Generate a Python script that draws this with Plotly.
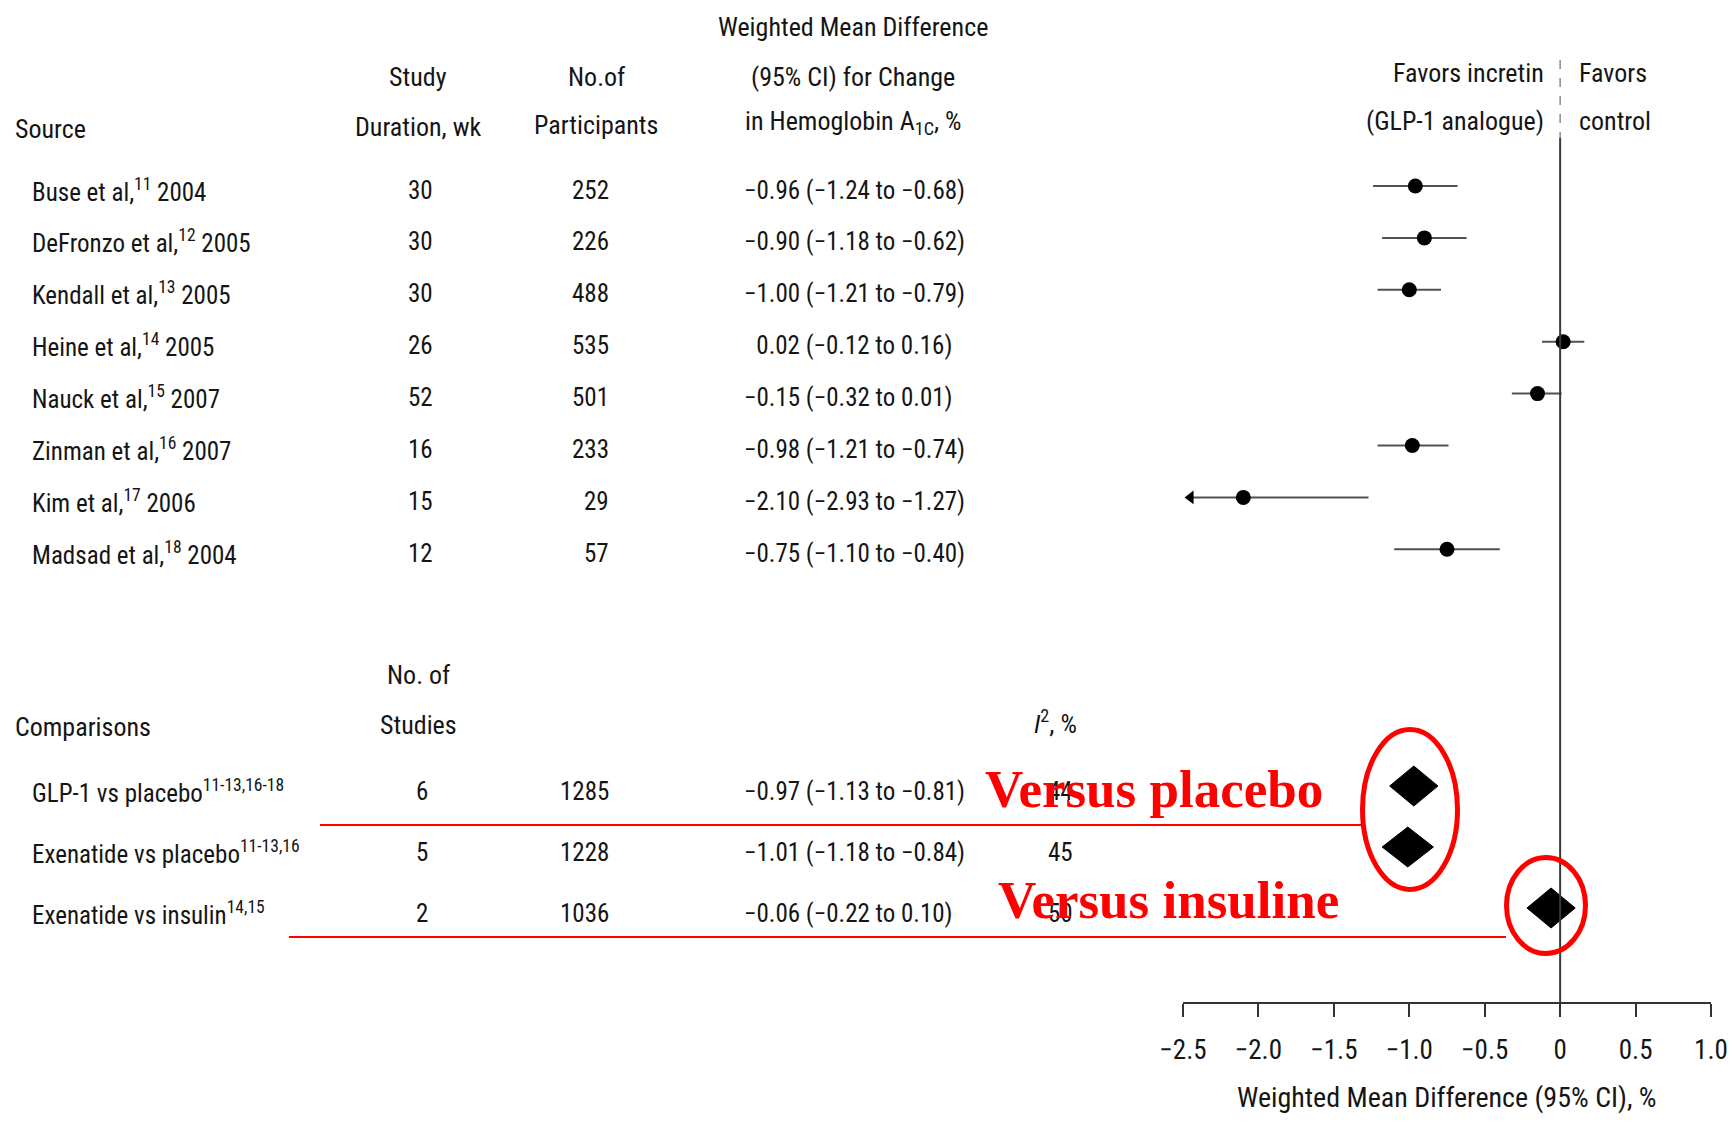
import plotly.graph_objects as go

W, H = 1732, 1123

# ---- individual trials ----
studies = [
    "Buse et al,<sup>11</sup> 2004",
    "DeFronzo et al,<sup>12</sup> 2005",
    "Kendall et al,<sup>13</sup> 2005",
    "Heine et al,<sup>14</sup> 2005",
    "Nauck et al,<sup>15</sup> 2007",
    "Zinman et al,<sup>16</sup> 2007",
    "Kim et al,<sup>17</sup> 2006",
    "Madsad et al,<sup>18</sup> 2004",
]
duration_wk = [30, 30, 30, 26, 52, 16, 15, 12]
participants = [252, 226, 488, 535, 501, 233, 29, 57]
wmd = [-0.96, -0.90, -1.00, 0.02, -0.15, -0.98, -2.10, -0.75]
ci_low = [-1.24, -1.18, -1.21, -0.12, -0.32, -1.21, -2.93, -1.10]
ci_high = [-0.68, -0.62, -0.79, 0.16, 0.01, -0.74, -1.27, -0.40]

# ---- pooled comparisons ----
comparisons = [
    "GLP-1 vs placebo<sup>11-13,16-18</sup>",
    "Exenatide vs placebo<sup>11-13,16</sup>",
    "Exenatide vs insulin<sup>14,15</sup>",
]
n_studies = [6, 5, 2]
comp_participants = [1285, 1228, 1036]
comp_wmd = [-0.97, -1.01, -0.06]
comp_low = [-1.13, -1.18, -0.22]
comp_high = [-0.81, -0.84, 0.10]
i_squared = [44, 45, 50]

# ---- axis ----
x_range = [-2.5, 1.0]
x_ticks = [-2.5, -2.0, -1.5, -1.0, -0.5, 0, 0.5, 1.0]
x_ticklabels = ["\u22122.5", "\u22122.0", "\u22121.5", "\u22121.0", "\u22120.5", "0", "0.5", "1.0"]

# ---- layout geometry (pixels from the top-left of the page) ----
AXIS_Y = 1002
PLOT_L, PLOT_R = 1183, 1711
ROW_Y0, ROW_STEP = 190, 51.9
COMP_Y0, COMP_STEP = 791, 61
MARK_SHIFT = -4
DIAMOND_HALF = 20

FONT = "Liberation Sans Narrow, Arial Narrow, Roboto Condensed, DejaVu Sans Condensed, Liberation Sans, Arial, sans-serif"
SERIF = "Liberation Serif, Times New Roman, serif"
INK = "#151515"
RED = "#ff0000"
ROW_SIZE = 25
HEAD_SIZE = 26


def px(x):
    return x / W


def py(y):
    return 1 - y / H


def signed(v):
    return f"{v:.2f}".replace("-", "\u2212")


def ci_text(est, lo, hi):
    lead = "" if est < 0 else "\u2007"
    return f"{lead}{signed(est)} ({signed(lo)} to {signed(hi)})"


annotations = []


def label(text, x, y, anchor="left", size=ROW_SIZE, font=FONT, color=INK, bold=False):
    annotations.append(dict(
        text=f"<b>{text}</b>" if bold else text,
        x=px(x), y=py(y), xref="paper", yref="paper",
        xanchor=anchor, yanchor="middle", showarrow=False,
        font=dict(family=font, size=size, color=color),
    ))


# column headers
label("Source", 13, 129, size=HEAD_SIZE)
label("Study", 418, 77, "center", HEAD_SIZE)
label("Duration, wk", 418, 127, "center", HEAD_SIZE)
label("No.of", 596, 77, "center", HEAD_SIZE)
label("Participants", 596, 125, "center", HEAD_SIZE)
label("Weighted Mean Difference", 853, 27, "center", HEAD_SIZE)
label("(95% CI) for Change", 853, 77, "center", HEAD_SIZE)
label("in Hemoglobin A<sub>1C</sub>, %", 853, 123, "center", HEAD_SIZE)
label("Favors incretin", 1546, 73, "right", HEAD_SIZE)
label("(GLP-1 analogue)", 1546, 121, "right", HEAD_SIZE)
label("Favors", 1577, 73, "left", HEAD_SIZE)
label("control", 1577, 121, "left", HEAD_SIZE)

# study rows
row_y = [ROW_Y0 + i * ROW_STEP for i in range(len(studies))]
for i, name in enumerate(studies):
    y = row_y[i]
    label(name, 30, y)
    label(str(duration_wk[i]), 420, y, "center")
    label(str(participants[i]), 611, y, "right")
    label(ci_text(wmd[i], ci_low[i], ci_high[i]), 742, y)

# comparison headers
label("No. of", 418, 675, "center", HEAD_SIZE)
label("Studies", 418, 725, "center", HEAD_SIZE)
label("Comparisons", 13, 727, size=HEAD_SIZE)
label("<i>I</i><sup>2</sup>, %", 1055, 722, "center", HEAD_SIZE)

comp_y = [COMP_Y0 + i * COMP_STEP for i in range(len(comparisons))]
for i, name in enumerate(comparisons):
    y = comp_y[i]
    label(name, 30, y)
    label(str(n_studies[i]), 422, y, "center")
    label(str(comp_participants[i]), 611, y, "right")
    label(ci_text(comp_wmd[i], comp_low[i], comp_high[i]), 742, y)
    label(str(i_squared[i]), 1060, y, "center")

# axis title
label("Weighted Mean Difference (95% CI), %", (PLOT_L + PLOT_R) / 2, 1097, "center", 28)

fig = go.Figure()

# confidence intervals of the individual trials (clipped at the axis edge)
arrow_x = x_range[0] + 0.05
ci_x, ci_y = [], []
arrows_x, arrows_y = [], []
for i in range(len(studies)):
    y = row_y[i] + MARK_SHIFT
    lo = ci_low[i]
    if lo < x_range[0]:
        lo = arrow_x
        arrows_x.append(arrow_x)
        arrows_y.append(y)
    ci_x += [lo, ci_high[i], None]
    ci_y += [y, y, None]

fig.add_trace(go.Scatter(
    x=ci_x, y=ci_y, mode="lines",
    line=dict(color="#505050", width=2), hoverinfo="skip", showlegend=False,
))
fig.add_trace(go.Scatter(
    x=wmd, y=[y + MARK_SHIFT for y in row_y], mode="markers",
    marker=dict(symbol="circle", size=15, color="#000000"),
    showlegend=False,
))
fig.add_trace(go.Scatter(
    x=arrows_x, y=arrows_y, mode="markers",
    marker=dict(symbol="triangle-left", size=12, color="#000000"),
    showlegend=False,
))

# pooled estimates as diamonds spanning the confidence interval
for i in range(len(comparisons)):
    yc = comp_y[i] - 5
    fig.add_trace(go.Scatter(
        x=[comp_low[i], comp_wmd[i], comp_high[i], comp_wmd[i], comp_low[i]],
        y=[yc, yc - DIAMOND_HALF, yc, yc + DIAMOND_HALF, yc],
        mode="lines", fill="toself", fillcolor="#000000",
        line=dict(color="#000000", width=1), showlegend=False,
    ))

shapes = [
    # line of no effect
    dict(type="line", xref="x", yref="y", x0=0, x1=0, y0=138, y1=AXIS_Y,
         line=dict(color="#3a3a3a", width=2)),
    dict(type="line", xref="x", yref="y", x0=0, x1=0, y0=60, y1=138,
         line=dict(color="#8a8a8a", width=1.5, dash="dash")),
    # red highlights
    dict(type="line", xref="paper", yref="paper", x0=px(320), x1=px(1362), y0=py(825), y1=py(825),
         line=dict(color=RED, width=2)),
    dict(type="line", xref="paper", yref="paper", x0=px(289), x1=px(1506), y0=py(937), y1=py(937),
         line=dict(color=RED, width=2)),
    dict(type="circle", xref="paper", yref="paper", x0=px(1362.5), x1=px(1457.5), y0=py(729.5), y1=py(889.5),
         line=dict(color=RED, width=5)),
    dict(type="circle", xref="paper", yref="paper", x0=px(1506.5), x1=px(1585.5), y0=py(857.5), y1=py(953.5),
         line=dict(color=RED, width=5)),
]

label("Versus placebo", 983, 789, "left", 53, SERIF, RED, bold=True)
label("Versus insuline", 996, 900, "left", 53, SERIF, RED, bold=True)

fig.update_layout(
    width=W, height=H,
    margin=dict(l=0, r=0, t=0, b=0, pad=0),
    paper_bgcolor="white", plot_bgcolor="rgba(0,0,0,0)",
    xaxis=dict(
        domain=[px(PLOT_L), px(PLOT_R)], range=x_range,
        tickvals=x_ticks, ticktext=x_ticklabels,
        ticks="outside", ticklen=13, tickwidth=2, tickcolor="#333333",
        showline=True, linecolor="#333333", linewidth=2,
        showgrid=False, zeroline=False, automargin=False,
        ticklabelstandoff=10,
        tickfont=dict(family=FONT, size=27, color=INK),
    ),
    yaxis=dict(
        domain=[1 - AXIS_Y / H, 1], range=[AXIS_Y, 0],
        visible=False, showgrid=False, zeroline=False, automargin=False,
    ),
    shapes=shapes,
    annotations=annotations,
    showlegend=False,
)

fig.write_html("out.html")
